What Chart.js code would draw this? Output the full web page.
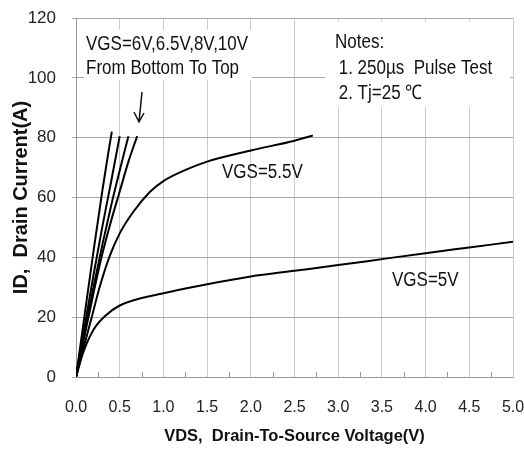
<!DOCTYPE html>
<html>
<head>
<meta charset="utf-8">
<script src="https://cdn.jsdelivr.net/npm/chart.js@4.4.0/dist/chart.umd.min.js"></script>
<style>
  html, body { margin: 0; padding: 0; background: #fff; }
  #wrap { width: 524px; height: 450px; }
</style>
</head>
<body>
<div id="wrap"><canvas id="ivChart"></canvas></div>
<script>
// output curves, ID (A) vs VDS (V)
var vds5 = [0, 0.08, 0.2, 0.33, 0.5, 1.0, 1.5, 2.0, 2.5, 3.0, 3.5, 4.0, 4.5, 5.0];
var id5 = [0, 8, 15.8, 20.3, 23.9, 28, 31, 33.6, 35.5, 37.4, 39.4, 41.4, 43.3, 45.2];

var vds55 = [0, 0.08, 0.18, 0.27, 0.38, 0.5, 0.65, 0.85, 1.0, 1.26, 1.5, 2.0, 2.5, 2.71];
var id55 = [0, 9, 20, 30, 40, 48, 55, 62, 65.5, 69.3, 72, 75.7, 79, 80.7];

var vds6 = [0, 0.1, 0.2, 0.3, 0.4, 0.5, 0.6, 0.7];
var id6 = [0, 14, 28, 41, 52, 62, 72, 80.5];

var vds65 = [0, 0.1, 0.2, 0.3, 0.4, 0.5, 0.6];
var id65 = [0, 15, 30, 44, 57, 69, 80.5];

var vds8 = [0, 0.1, 0.2, 0.3, 0.4, 0.5];
var id8 = [0, 17, 34, 50, 65, 80.5];

var vds10 = [0, 0.1, 0.2, 0.3, 0.37, 0.41];
var id10 = [0, 21, 42, 62, 75, 82];

var xTicks = [0, 0.5, 1, 1.5, 2, 2.5, 3, 3.5, 4, 4.5, 5];
var yTicks = [0, 20, 40, 60, 80, 100, 120];

var FONT = '"Liberation Sans", Arial, sans-serif';

function pts(xs, ys) {
    return xs.map(function (x, i) { return { x: x, y: ys[i] }; });
}

function curve(xs, ys) {
    return {
        data: pts(xs, ys),
        borderColor: '#000',
        borderWidth: 2,
        pointRadius: 0,
        fill: false,
        cubicInterpolationMode: 'monotone'
    };
}

// the original uses a narrow face, so squeeze the text sideways
function narrowText(ctx, txt, x, y) {
    ctx.save();
    ctx.translate(x, y);
    ctx.scale(0.85, 1);
    ctx.fillText(txt, 0, 0);
    ctx.restore();
}

// boxes, notes, arrow and the little minor ticks on the x axis
var decor = {
    id: 'decor',
    beforeDatasetsDraw: function (chart) {
        var ctx = chart.ctx;
        var a = chart.chartArea;
        var xs = chart.scales.x;
        ctx.save();

        // minor ticks at every 0.25 V, pointing inwards
        ctx.strokeStyle = '#999';
        ctx.lineWidth = 1;
        for (var v = 0.25; v < 5; v += 0.5) {
            var px = Math.round(xs.getPixelForValue(v)) + 0.5;
            ctx.beginPath();
            ctx.moveTo(px, a.bottom);
            ctx.lineTo(px, a.bottom - 5);
            ctx.stroke();
        }

        ctx.fillStyle = '#fff';
        ctx.fillRect(a.left + 8, a.top + 12, 168, 50);
        ctx.fillRect(a.left + 249, a.top + 4, 185, 85);

        ctx.fillStyle = '#111';
        ctx.textBaseline = 'middle';
        ctx.textAlign = 'left';
        ctx.font = '20px ' + FONT;
        narrowText(ctx, 'VGS=6V,6.5V,8V,10V', a.left + 10, a.top + 26);
        narrowText(ctx, 'From Bottom To Top', a.left + 10, a.top + 50);

        narrowText(ctx, 'Notes:', a.left + 259, a.top + 24);
        narrowText(ctx, ' 1. 250\u00b5s  Pulse Test', a.left + 258, a.top + 50);
        narrowText(ctx, ' 2. Tj=25 \u2103', a.left + 258, a.top + 75);

        narrowText(ctx, 'VGS=5.5V', a.left + 146, a.top + 154);
        narrowText(ctx, 'VGS=5V', a.left + 316, a.top + 262);

        // arrow
        ctx.strokeStyle = '#111';
        ctx.lineWidth = 1.5;
        ctx.beginPath();
        ctx.moveTo(a.left + 66, a.top + 74);
        ctx.lineTo(a.left + 63, a.top + 104);
        ctx.moveTo(a.left + 58, a.top + 94);
        ctx.lineTo(a.left + 63, a.top + 104);
        ctx.lineTo(a.left + 68, a.top + 95);
        ctx.stroke();

        ctx.restore();
    }
};

function noPad(s) {
    s.paddingLeft = 0;
    s.paddingRight = 0;
    s.paddingTop = 0;
    s.paddingBottom = 0;
}

var ctx = document.getElementById('ivChart').getContext('2d');
var ivChart = new Chart(ctx, {
    type: 'line',
    data: {
        datasets: [
            curve(vds5, id5),
            curve(vds55, id55),
            curve(vds6, id6),
            curve(vds65, id65),
            curve(vds8, id8),
            curve(vds10, id10)
        ]
    },
    plugins: [decor],
    options: {
        responsive: true,
        maintainAspectRatio: false,
        animation: false,
        layout: { padding: { top: 18, right: 11, left: 0, bottom: 0 } },
        plugins: {
            legend: { display: false },
            tooltip: { enabled: false }
        },
        scales: {
            x: {
                type: 'linear',
                min: 0,
                max: 5,
                afterFit: function (s) { s.height = 73; noPad(s); },
                afterBuildTicks: function (s) {
                    s.ticks = xTicks.map(function (v) { return { value: v }; });
                },
                ticks: {
                    padding: 21,
                    color: '#222',
                    font: { family: FONT, size: 16 },
                    maxRotation: 0,
                    callback: function (v) { return v.toFixed(1); }
                },
                grid: { color: '#cbcbcb', tickLength: 0 },
                border: { color: '#999' },
                title: {
                    display: true,
                    text: 'VDS,  Drain-To-Source Voltage(V)',
                    color: '#111',
                    font: { family: FONT, size: 16.5, weight: 'bold' },
                    padding: { top: 0, bottom: 4 }
                }
            },
            y: {
                min: 0,
                max: 120,
                afterFit: function (s) { s.width = 76; noPad(s); },
                afterBuildTicks: function (s) {
                    s.ticks = yTicks.map(function (v) { return { value: v }; });
                },
                ticks: {
                    padding: 16,
                    color: '#222',
                    font: { family: FONT, size: 17 }
                },
                grid: { color: '#a8a8a8', tickLength: 4 },
                border: { color: '#999' },
                title: {
                    display: true,
                    text: 'ID,  Drain Current(A)',
                    color: '#111',
                    font: { family: FONT, size: 20, weight: 'bold' },
                    padding: { top: 9, bottom: 0 }
                }
            }
        }
    }
});
</script>
</body>
</html>
